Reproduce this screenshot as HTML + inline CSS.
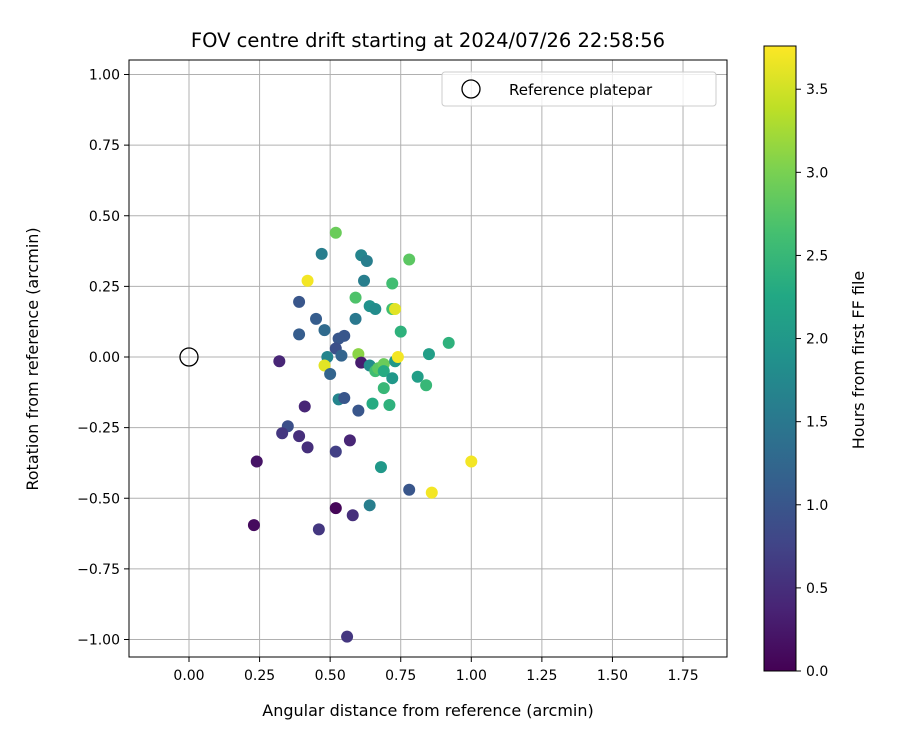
<!DOCTYPE html>
<html><head><meta charset="utf-8"><style>
body{margin:0;background:#fff;}
svg{font-family:"DejaVu Sans","Liberation Sans",sans-serif;}
</style></head><body>
<svg width="900" height="750" viewBox="0 0 900 750">
<defs>
<linearGradient id="vir" x1="0" y1="1" x2="0" y2="0">
<stop offset="0" stop-color="#440154"/><stop offset="0.1" stop-color="#482475"/><stop offset="0.2" stop-color="#414487"/><stop offset="0.3" stop-color="#355f8d"/><stop offset="0.4" stop-color="#2a788e"/><stop offset="0.5" stop-color="#21918c"/><stop offset="0.6" stop-color="#22a884"/><stop offset="0.7" stop-color="#44bf70"/><stop offset="0.8" stop-color="#7ad151"/><stop offset="0.9" stop-color="#bddf26"/><stop offset="1" stop-color="#fde725"/>
</linearGradient>
</defs>
<g id="plot"></g>
</svg>
<script>
const xs=[0.52,0.47,0.42,0.61,0.63,0.62,0.78,0.72,0.39,0.59,0.64,0.66,0.72,0.73,0.45,0.59,0.48,0.75,0.39,0.55,0.53,0.92,0.52,0.32,0.49,0.54,0.60,0.61,0.64,0.66,0.67,0.69,0.73,0.74,0.85,0.48,0.50,0.69,0.72,0.81,0.84,0.69,0.41,0.53,0.55,0.60,0.65,0.71,0.35,0.33,0.39,0.57,0.42,0.52,0.24,1.00,0.68,0.78,0.86,0.64,0.52,0.58,0.23,0.46,0.56];
const ys=[0.44,0.365,0.27,0.36,0.34,0.27,0.345,0.26,0.195,0.21,0.18,0.17,0.17,0.17,0.135,0.135,0.095,0.09,0.08,0.075,0.065,0.05,0.03,-0.015,0,0.005,0.01,-0.02,-0.03,-0.05,-0.04,-0.025,-0.015,0,0.01,-0.03,-0.06,-0.05,-0.075,-0.07,-0.1,-0.11,-0.175,-0.15,-0.145,-0.19,-0.165,-0.17,-0.245,-0.27,-0.28,-0.295,-0.32,-0.335,-0.37,-0.37,-0.39,-0.47,-0.48,-0.525,-0.535,-0.56,-0.595,-0.61,-0.99];
const hours=[2.9,1.6,3.7,1.7,1.6,1.6,2.8,2.6,1.0,2.7,1.9,1.8,2.6,3.6,1.1,1.5,1.3,2.4,1.1,1.0,1.0,2.4,0.9,0.4,1.7,1.2,3.1,0.3,1.8,2.6,2.8,2.9,2.0,3.7,2.1,3.6,1.2,2.3,2.0,2.1,2.5,2.5,0.4,1.7,1.0,1.0,2.3,2.4,0.9,0.6,0.5,0.4,0.5,0.7,0.2,3.7,2.0,1.0,3.7,1.6,0.05,0.5,0.1,0.6,0.6];
const xTicks=[0,0.25,0.5,0.75,1,1.25,1.5,1.75];
const yTicks=[1,0.75,0.5,0.25,0,-0.25,-0.5,-0.75,-1];
const cTicks=[0,0.5,1,1.5,2,2.5,3,3.5];
const L=129,R=727,T=60,B=657;
const X=v=>189+v*282.3, Y=v=>357-v*282.5;
const CB=v=>671-v*(625/3.76);
const vir=["#440154","#482475","#414487","#355f8d","#2a788e","#21918c","#22a884","#44bf70","#7ad151","#bddf26","#fde725"];
function hex(h){return [1,3,5].map(i=>parseInt(h.substr(i,2),16));}
function col(h){let t=Math.max(0,Math.min(1,h/3.76))*10;let i=Math.min(9,Math.floor(t)),f=t-i;let a=hex(vir[i]),b=hex(vir[i+1]);return 'rgb('+a.map((c,k)=>Math.round(c+(b[k]-c)*f)).join(',')+')';}
const NS="http://www.w3.org/2000/svg";const g=document.getElementById('plot');
function mk(t,at,txt){const e=document.createElementNS(NS,t);for(const k in at)e.setAttribute(k,at[k]);if(txt!==undefined)e.textContent=txt;g.appendChild(e);return e;}
xTicks.forEach(v=>{const x=X(v);
const l=mk('line',{x1:x,x2:x,y1:T,y2:B,stroke:'#b0b0b0','stroke-width':1});


const tk=mk('line',{x1:x,x2:x,y1:B,y2:B+5,stroke:'#000'});


const t=mk('text',{x:x,y:B+23,'text-anchor':'middle','font-size':14},v.toFixed(2));

});
yTicks.forEach(v=>{const y=Y(v);
const l=mk('line',{x1:L,x2:R,y1:y,y2:y,stroke:'#b0b0b0','stroke-width':1});


const tk=mk('line',{x1:L-5,x2:L,y1:y,y2:y,stroke:'#000'});


const t=mk('text',{x:L-9,y:y+5,'text-anchor':'end','font-size':14},(v<0?'\u2212':'')+Math.abs(v).toFixed(2));

});
const ref=mk('circle',{cx:X(0),cy:Y(0),r:9,fill:'none',stroke:'#000','stroke-width':1.3});


xs.forEach((v,i)=>{const c=mk('circle',{cx:X(v),cy:Y(ys[i]),r:6,fill:col(hours[i])});

});
const fr=mk('rect',{x:L,y:T,width:R-L,height:B-T,fill:'none',stroke:'#000','stroke-width':1});


const lg=mk('rect',{x:442,y:72,width:274,height:34,rx:3,fill:'#fff',stroke:'#ccc','fill-opacity':0.8});


const lc=mk('circle',{cx:471,cy:89,r:9,fill:'none',stroke:'#000','stroke-width':1.3});


const lt=mk('text',{x:509,y:95,'font-size':15},'Reference platepar');


const ti=mk('text',{x:428,y:47,'text-anchor':'middle','font-size':19.5},'FOV centre drift starting at 2024/07/26 22:58:56');


const xt=mk('text',{x:428,y:716,'text-anchor':'middle','font-size':16},'Angular distance from reference (arcmin)');


const yt=mk('text',{x:38,y:359,'text-anchor':'middle','font-size':16,transform:'rotate(-90 38 359)'},'Rotation from reference (arcmin)');


const cb=mk('rect',{x:764,y:46,width:32,height:625,fill:'url(#vir)',stroke:'#000','stroke-width':1});


cTicks.forEach(v=>{const y=CB(v);
const tk=mk('line',{x1:796,x2:801,y1:y,y2:y,stroke:'#000'});


const t=mk('text',{x:806,y:y+5,'font-size':14},v.toFixed(1));

});
const ct=mk('text',{x:864,y:360,'text-anchor':'middle','font-size':16,transform:'rotate(-90 864 360)'},'Hours from first FF file');


</script>
</body></html>
